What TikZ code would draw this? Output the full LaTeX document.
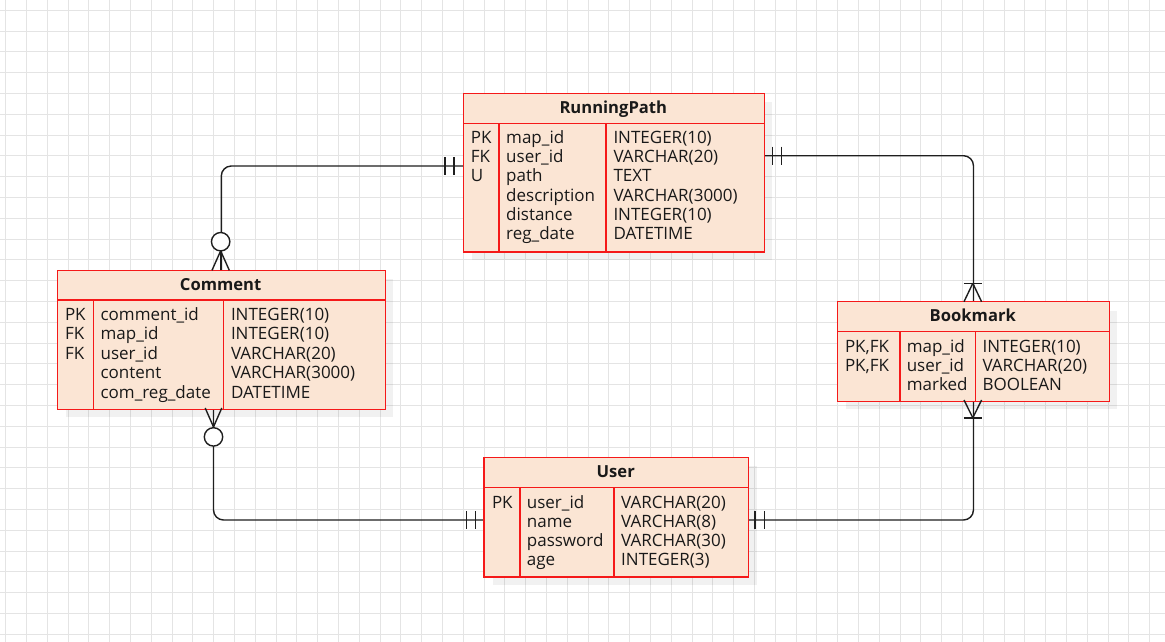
\documentclass[tikz,border=0pt]{standalone}
\usepackage{fontspec}
\setmainfont{Open Sans}
\usetikzlibrary{calc}
\definecolor{tfill}{RGB}{251,229,212}
\definecolor{tred}{RGB}{245,25,25}
\definecolor{gridc}{RGB}{228,228,228}
\definecolor{txt}{RGB}{25,25,25}
\definecolor{lnc}{RGB}{30,30,30}
\tikzset{
  x=1pt,y=-1pt,
  gridline/.style={draw=gridc,line width=1.1pt},
  tblbox/.style={draw=tred,fill=tfill,line width=1.3pt,rectangle,inner sep=0pt,anchor=north west},
  tblshadow/.style={fill=black,fill opacity=0.055,draw=none},
  tblline/.style={draw=tred,line width=1.3pt},
  cell/.style={anchor=base west,inner sep=0pt,text=txt,font=\fontsize{17}{20}\selectfont},
  ttl/.style={anchor=base,inner sep=0pt,text=txt,font=\fontsize{16.6}{20}\selectfont\bfseries},
  conn/.style={draw=lnc,line width=1.4pt},
  mk/.style={draw=lnc,line width=1.4pt},
}
\begin{document}
\begin{tikzpicture}
\useasboundingbox (0,0) rectangle (1165,642);
\fill[white] (0,0) rectangle (1165,642);
% grid
\foreach \i in {0,...,55} \draw[gridline] ({5.7+20.8*\i},0) -- ({5.7+20.8*\i},642);
\foreach \i in {0,...,30} \draw[gridline] (0,{10.3+20.8*\i}) -- (1165,{10.3+20.8*\i});
% shadows
\fill[tblshadow] (472.3,102.3) rectangle (772.3,259.7);
\fill[tblshadow] (66.3,279.3) rectangle (393,417);
\fill[tblshadow] (846.3,310.7) rectangle (1117.3,409);
\fill[tblshadow] (493,466.3) rectangle (756.5,584.7);
% table boxes
\node[tblbox,minimum width=300pt,minimum height=157.4pt] (rp) at (463.3,93.3) {};
\node[tblbox,minimum width=326.7pt,minimum height=137.7pt] (cm) at (57.3,270.3) {};
\node[tblbox,minimum width=271pt,minimum height=98.3pt] (bm) at (837.3,301.7) {};
\node[tblbox,minimum width=263.5pt,minimum height=118.4pt] (us) at (484,457.3) {};
% connector end points
\coordinate (rpL) at (rp.west |- 0,166);
\coordinate (rpR) at (rp.east |- 0,155.7);
\coordinate (cmB) at (cm.south -| 213.5,0);
\coordinate (usL) at (us.west |- 0,520);
\coordinate (usR) at (us.east |- 0,520);
% connectors
\draw[conn,rounded corners=10pt] (rpL) -| (cm.north);
\draw[conn,rounded corners=10pt] (rpR) -| (bm.north);
\draw[conn,rounded corners=10pt] (cmB) |- (usL);
\draw[conn,rounded corners=10pt] (usR) -| (bm.south);
% redraw boxes over connectors
\draw[tblbox] (rp.north west) rectangle (rp.south east);
\draw[tblbox] (cm.north west) rectangle (cm.south east);
\draw[tblbox] (bm.north west) rectangle (bm.south east);
\draw[tblbox] (us.north west) rectangle (us.south east);
% internal lines
\draw[tblline] (rp.west |- 0,123.3) -- (rp.east |- 0,123.3);
\draw[tblline] (499,123.3) -- (rp.south -| 499,0);
\draw[tblline] (606,123.3) -- (rp.south -| 606,0);
\draw[tblline] (cm.west |- 0,300) -- (cm.east |- 0,300);
\draw[tblline] (93.3,300) -- (cm.south -| 93.3,0);
\draw[tblline] (223.3,300) -- (cm.south -| 223.3,0);
\draw[tblline] (bm.west |- 0,331.7) -- (bm.east |- 0,331.7);
\draw[tblline] (900,331.7) -- (bm.south -| 900,0);
\draw[tblline] (975.3,331.7) -- (bm.south -| 975.3,0);
\draw[tblline] (us.west |- 0,487.3) -- (us.east |- 0,487.3);
\draw[tblline] (520,487.3) -- (us.south -| 520,0);
\draw[tblline] (614,487.3) -- (us.south -| 614,0);
% titles
\node[ttl] (rpt) at (613.3,113.3) {RunningPath};
\node[ttl] (cmt) at (220.65,290) {Comment};
\node[ttl] (bmt) at (972.8,321.7) {Bookmark};
\node[ttl] (ust) at (615.75,477.3) {User};
% RunningPath rows
\foreach [count=\i] \k/\n/\t in {PK/map\_id/INTEGER(10),FK/user\_id/VARCHAR(20),U/path/TEXT,{}/description/VARCHAR(3000),{}/distance/INTEGER(10),{}/reg\_date/DATETIME}{
  \node[cell] (rpk\i) at (470.6,{143.3+19.3*(\i-1)}) {\k};
  \node[cell] (rpn\i) at (506.0,{143.3+19.3*(\i-1)}) {\n};
  \node[cell] (rpt\i) at (613.3,{143.3+19.3*(\i-1)}) {\t};
}
% Comment rows
\foreach [count=\i] \k/\n/\t in {PK/comment\_id/INTEGER(10),FK/map\_id/INTEGER(10),FK/user\_id/VARCHAR(20),{}/content/VARCHAR(3000),{}/com\_reg\_date/DATETIME}{
  \node[cell] (cmk\i) at (64.8,{320+19.5*(\i-1)}) {\k};
  \node[cell] (cmn\i) at (100.4,{320+19.5*(\i-1)}) {\n};
  \node[cell] (cmt\i) at (230.8,{320+19.5*(\i-1)}) {\t};
}
% Bookmark rows
\foreach [count=\i] \k/\n/\t in {{PK,FK}/map\_id/INTEGER(10),{PK,FK}/user\_id/VARCHAR(20),{}/marked/BOOLEAN}{
  \node[cell] (bmk\i) at (844.8,{352.3+19.2*(\i-1)}) {\k};
  \node[cell] (bmn\i) at (906.6,{352.3+19.2*(\i-1)}) {\n};
  \node[cell] (bmt\i) at (982.3,{352.3+19.2*(\i-1)}) {\t};
}
% User rows
\foreach [count=\i] \k/\n/\t in {PK/user\_id/VARCHAR(20),{}/name/VARCHAR(8),{}/password/VARCHAR(30),{}/age/INTEGER(3)}{
  \node[cell] (usk\i) at (491.8,{508.3+19.2*(\i-1)}) {\k};
  \node[cell] (usn\i) at (526.7,{508.3+19.2*(\i-1)}) {\n};
  \node[cell] (ust\i) at (621,{508.3+19.2*(\i-1)}) {\t};
}
% ---- end markers ----
% RunningPath left: mandatory one
\draw[mk] (445,157) -- (445,175);
\draw[mk] (454,157) -- (454,175);
% Comment top: zero to many
\draw[mk] (220.65,250.9) -- (220.65,270.3);
\draw[mk] (220.65,250.9) -- (212,270.3);
\draw[mk] (220.65,250.9) -- (229.3,270.3);
\draw[mk,fill=white] (220.65,241.7) circle (9.2);
% RunningPath right: mandatory one
\draw[mk] (772.7,146.7) -- (772.7,164.7);
\draw[mk] (781.7,146.7) -- (781.7,164.7);
% Bookmark top: one to many
\draw[mk] (963.8,283.3) -- (981.8,283.3);
\draw[mk] (972.8,283.3) -- (964,301.7);
\draw[mk] (972.8,283.3) -- (981.6,301.7);
% Comment bottom: zero to many
\draw[mk] (213.5,426.9) -- (205.2,408);
\draw[mk] (213.5,426.9) -- (221.8,408);
\draw[mk,fill=white] (213.5,436.9) circle (9.2);
% User left: mandatory one
\draw[mk] (466.6,511) -- (466.6,529);
\draw[mk] (475.5,511) -- (475.5,529);
% User right: mandatory one
\draw[mk] (755,511) -- (755,529);
\draw[mk] (764.7,511) -- (764.7,529);
% Bookmark bottom: one to many
\draw[mk] (963.8,417.8) -- (981.8,417.8);
\draw[mk] (972.8,417.8) -- (964,400);
\draw[mk] (972.8,417.8) -- (981.6,400);
\end{tikzpicture}
\end{document}
